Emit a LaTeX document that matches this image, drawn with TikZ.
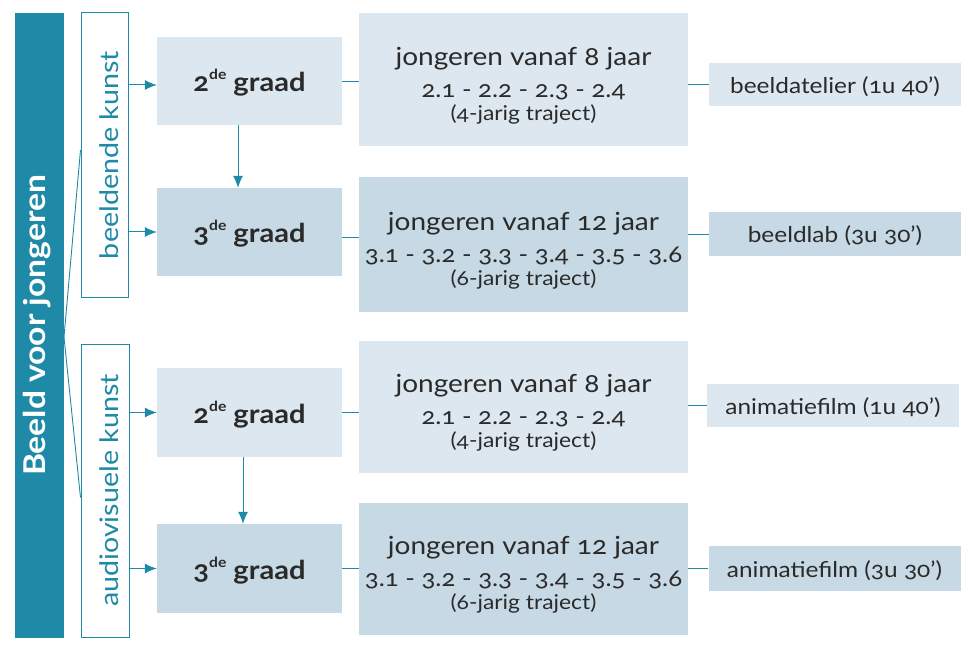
\documentclass[tikz,border=0pt]{standalone}
\usepackage{fontspec}
\setmainfont{Lato}[FakeStretch=1.12, Numbers=OldStyle]
\usetikzlibrary{arrows.meta}
\definecolor{cteal}{HTML}{1E8AA8}
\definecolor{boxA}{HTML}{DCE7EF}
\definecolor{boxB}{HTML}{C6D9E4}
\definecolor{ink}{HTML}{2A2A2A}
\newcommand{\fs}[1]{\fontsize{#1}{#1}\selectfont}
\newcommand{\grd}[1]{#1\raisebox{12pt}{\fs{14}de} graad}
\tikzset{
  base/.style={rectangle, inner sep=0pt, text=ink, align=center},
  lightbox/.style={base, fill=boxA},
  darkbox/.style={base, fill=boxB},
  outlinebox/.style={rectangle, inner sep=0pt, draw=cteal, line width=1pt, fill=white},
  gradebox/.style={minimum width=185, minimum height=88, font=\fs{26}\bfseries, text height=22pt, text depth=0pt},
  midbox/.style={minimum width=329, minimum height=133, font=\fontsize{10}{32}\selectfont},
  rightbox/.style={minimum width=252, minimum height=43, font=\fs{21.8}, text height=18pt, text depth=0pt},
  arr/.style={draw=cteal, line width=1pt, -{Latex[length=12pt,width=10pt]}},
  link/.style={draw=cteal, line width=0.9pt},
  rottext/.style={rotate=90, inner sep=0pt},
}
\newcommand{\midtext}[3]{{\fs{25}\rule{0pt}{30pt}#1}\\
  {\fs{23}#2}\\[-9pt]
  {\fs{20.4}#3}}
\begin{document}
\begin{tikzpicture}[x=1pt,y=-1pt]
\useasboundingbox (0,0) rectangle (969,655);
% left bar
\node[base, fill=cteal, minimum width=49, minimum height=625] (bar) at (39.5,325.5) {};
\node[rottext, text=white, font=\fs{30}\bfseries, text height=20pt, text depth=8pt] (bart) at (bar) {Beeld voor jongeren};
% outline boxes
\node[outlinebox, minimum width=47, minimum height=284] (o1) at (104.5,155) {};
\node[rottext, text=cteal, font=\fs{25.6}, text height=27pt, text depth=0pt] (o1t) at (o1) {beeldende kunst};
\node[outlinebox, minimum width=48, minimum height=293] (o2) at (105,490.5) {};
\node[rottext, text=cteal, font=\fs{25.6}, text height=27pt, text depth=0pt] (o2t) at (o2) {audiovisuele kunst};
\coordinate (hub) at (64,337);
\draw[link] (hub) -- ([yshift=5pt]o1.west);
\draw[link] (hub) -- ([yshift=-7pt]o2.west);
% grade boxes
\node[lightbox, gradebox] (g1) at (249.5,81) {\grd{2}};
\node[darkbox, gradebox] (g2) at (249.5,232) {\grd{3}};
\node[lightbox, gradebox, minimum height=89] (g3) at (249.5,412.5) {\grd{2}};
\node[darkbox, gradebox, minimum height=89] (g4) at (249.5,568.5) {\grd{3}};
% middle boxes
\node[lightbox, midbox] (m1) at (523.5,79.5) {\midtext{jongeren vanaf 8 jaar}{2.1 - 2.2 - 2.3 - 2.4}{(4-jarig traject)}};
\node[darkbox, midbox, minimum height=135] (m2) at (523.5,244.5) {\midtext{jongeren vanaf 12 jaar}{3.1 - 3.2 - 3.3 - 3.4 - 3.5 - 3.6}{(6-jarig traject)}};
\node[lightbox, midbox, minimum height=132] (m3) at (523.5,407) {\midtext{jongeren vanaf 8 jaar}{2.1 - 2.2 - 2.3 - 2.4}{(4-jarig traject)}};
\node[darkbox, midbox, minimum height=132] (m4) at (523.5,569) {\midtext{jongeren vanaf 12 jaar}{3.1 - 3.2 - 3.3 - 3.4 - 3.5 - 3.6}{(6-jarig traject)}};
% right boxes
\node[lightbox, rightbox] (r1) at (835,84.5) {beeldatelier (1u 40')};
\node[darkbox, rightbox, minimum height=44] (r2) at (835,234) {beeldlab (3u 30')};
\node[lightbox, rightbox] (r3) at (833,405.5) {animatiefilm (1u 40')};
\node[darkbox, rightbox, minimum height=45] (r4) at (834.5,568.5) {animatiefilm (3u 30')};
% arrows from outline boxes
\draw[arr] ([yshift=-4pt]o1.east |- g1.west) -- ([yshift=-4pt]g1.west);
\draw[arr] (o1.east |- g2.west) -- (g2.west);
\draw[arr] (o2.east |- g3.west) -- (g3.west);
\draw[arr] (o2.east |- g4.west) -- (g4.west);
% vertical arrows
\draw[arr] ([xshift=-11.5pt]g1.south) -- ([xshift=-11.5pt]g2.north);
\draw[arr] ([xshift=-6.5pt]g3.south) -- ([xshift=-6.5pt]g4.north);
% grade to middle
\draw[link] (g1.east) -- (g1.east -| m1.west);
\draw[link] ([yshift=-5pt]g2.east) -- ([yshift=-5pt]g2.east -| m2.west);
\draw[link] (g3.east) -- (g3.east -| m3.west);
\draw[link] (g4.east) -- (g4.east -| m4.west);
% middle to right
\draw[link] (m1.east |- r1.west) -- (r1.west);
\draw[link] (m2.east |- r2.west) -- (r2.west);
\draw[link] (m3.east |- r3.west) -- (r3.west);
\draw[link] (m4.east |- r4.west) -- (r4.west);
\end{tikzpicture}
\end{document}
